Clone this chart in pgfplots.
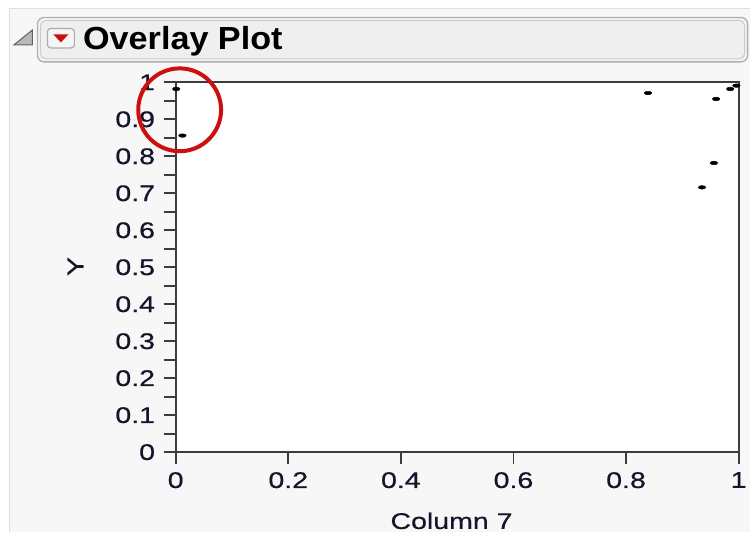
\documentclass[border=0pt]{standalone}
\usepackage{pgfplots}
\pgfplotsset{compat=1.18}
\usepackage{fontspec}
\setmainfont{Liberation Sans}[FakeStretch=1.26]
\newfontfamily\tickfont{Liberation Sans}[FakeStretch=1.26, FakeBold=0.6]
\newfontfamily\titlefont{Liberation Sans}[FakeStretch=1.07]
\definecolor{panel}{HTML}{F7F7F7}
\definecolor{panelline}{HTML}{E0E0E0}
\definecolor{boxout}{HTML}{B0B0B0}
\definecolor{boxin}{HTML}{CACACA}
\definecolor{boxgap}{HTML}{F4F4F4}
\definecolor{boxfill}{HTML}{EFEFEF}
\definecolor{axisgray}{HTML}{3C3C3C}
\definecolor{txt}{HTML}{14142A}
\definecolor{redmark}{HTML}{CC1010}
\begin{document}
\begin{tikzpicture}
\begin{scope}[x=0.75pt,y=-0.75pt]
\useasboundingbox (0,0) rectangle (751,533);
\fill[white] (0,0) rectangle (751,533);
\fill[panel] (9,8) rectangle (751,533);
\draw[panelline, line width=0.75pt] (9.4,533) -- (9.4,8.4) -- (751,8.4);
% title box
\draw[rounded corners=5pt, draw=boxout, fill=boxgap, line width=1pt] (37.5,17.5) rectangle (749,62);
\draw[rounded corners=4pt, draw=boxin, fill=boxfill, line width=0.75pt] (40.5,20.5) rectangle (746,59);
% disclosure triangle
\draw[fill=gray!55, draw=gray!75!black, line width=0.75pt] (14,45) -- (32.5,45) -- (32.5,30) -- cycle;
% red button
\draw[rounded corners=2.5pt, draw=gray!65, fill=gray!8, line width=0.9pt] (47.5,28.5) rectangle (74.5,48);
\fill[redmark] (53.5,34.5) -- (68.5,34.5) -- (61,42.5) -- cycle;
\node[anchor=base west, inner sep=0pt, text=black] at (83,50) {\titlefont\bfseries\fontsize{24}{24}\selectfont Overlay Plot};
\end{scope}
\begin{axis}[
  at={(132pt,-339.75pt)}, anchor=south west,
  scale only axis, width=423pt, height=277.9pt,
  xmin=0, xmax=1, ymin=0, ymax=1,
  axis background/.style={fill=white},
  axis line style={draw=axisgray, line width=1.5pt},
  xtick={0,0.2,0.4,0.6,0.8,1},
  ytick={0,0.1,0.2,0.3,0.4,0.5,0.6,0.7,0.8,0.9,1},
  minor ytick={0.05,0.15,0.25,0.35,0.45,0.55,0.65,0.75,0.85,0.95},
  tick align=outside,
  major tick length=9pt, minor tick length=9pt,
  every tick/.style={draw=axisgray, line width=1.4pt},
  xtick pos=bottom, ytick pos=left,
  /pgf/number format/assume math mode=true,
  tick label style={font=\tickfont\fontsize{17}{20}\selectfont, text=txt},
  yticklabel style={xshift=-3pt},
  xticklabel style={yshift=-2.5pt},
  xlabel={Column 7}, ylabel={Y},
  label style={font=\tickfont\fontsize{17}{20}\selectfont, text=txt},
  xlabel style={at={(axis description cs:0.49,-0.2075)}, anchor=base},
  ylabel style={at={(axis description cs:-0.178,0.502)}, anchor=center, rotate=0},
  clip=false,
]
\addplot[only marks, mark=*, mark size=1.4pt, black, mark options={xscale=2, yscale=0.95}] coordinates {
 (0.001,0.982) (0.012,0.856) (0.839,0.971) (0.960,0.955) (0.985,0.982)
 (0.996,0.991) (0.956,0.782) (0.935,0.716)
};
\end{axis}
\begin{scope}[x=0.75pt,y=-0.75pt]
\draw[redmark, line width=3pt] (180,110) circle [radius=41.5];
\end{scope}
\end{tikzpicture}
\end{document}
